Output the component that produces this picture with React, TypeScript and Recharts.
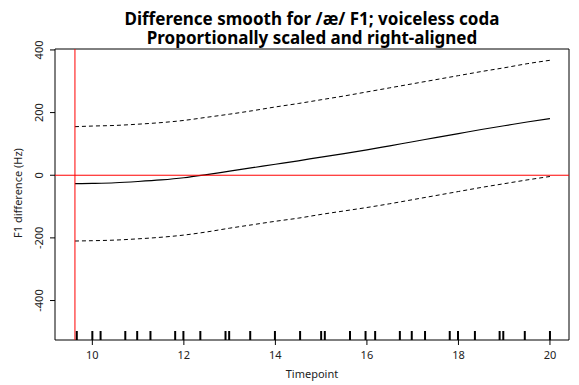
import React from "react";
import {
  ComposedChart,
  Line,
  Scatter,
  XAxis,
  YAxis,
  ReferenceLine,
  ReferenceArea,
  Customized,
} from "recharts";

// ---- data ----
const timepoints = [9.62, 10, 10.5, 11, 11.5, 12, 12.5, 13, 13.5, 14, 14.5, 15, 15.5, 16, 16.5, 17, 17.5, 18, 18.5, 19, 19.5, 20];
const meanDiff = [-27, -26, -24, -20, -15, -8, 2, 13, 24, 35, 46, 58, 69, 81, 94, 107, 120, 133, 146, 158, 170, 181];
const upperCI = [155, 157, 159, 163, 168, 175, 185, 195, 206, 218, 229, 241, 253, 266, 279, 292, 305, 318, 331, 343, 356, 367];
const lowerCI = [-210, -209, -207, -203, -198, -191, -181, -169, -158, -147, -137, -125, -114, -103, -91, -78, -65, -52, -39, -27, -15, -4];
const rugTimes = [9.66, 10, 10.18, 10.72, 10.98, 11.27, 11.81, 11.99, 12.36, 12.91, 12.99, 13.45, 13.99, 14.54, 15.0, 15.08, 15.63, 15.97, 16.18, 16.72, 16.98, 17.27, 17.81, 17.99, 18.36, 18.9, 18.98, 19.45, 20.0];
const xTicks = [10, 12, 14, 16, 18, 20];
const yTicks = [-400, -200, 0, 200, 400];
const startLine = 9.62;
const X_DOMAIN: [number, number] = [9.184, 20.416];
const Y_DOMAIN: [number, number] = [-526, 403];
const titleLines = ["Difference smooth for /æ/ F1; voiceless coda", "Proportionally scaled and right-aligned"];
const xLabel = "Timepoint";
const yLabel = "F1 difference (Hz)";

const curveData = timepoints.map((t, i) => ({ t, mean: meanDiff[i], upper: upperCI[i], lower: lowerCI[i] }));
const rugData = rugTimes.map((t) => ({ t, y: Y_DOMAIN[0] }));

const FONT = "'Noto Sans', 'Open Sans', sans-serif";

const XTick = (props: any) => {
  const { x, y, payload } = props;
  return (
    <text x={x} y={y + 12} textAnchor="middle" fontSize={11} fill="#222" fontFamily={FONT}>
      {payload.value}
    </text>
  );
};

const YTick = (props: any) => {
  const { x, y, payload } = props;
  return (
    <text x={x} y={y} transform={`rotate(-90, ${x}, ${y})`} textAnchor="middle" fontSize={11} fill="#222" fontFamily={FONT}>
      {payload.value}
    </text>
  );
};

const RugTick = (props: any) => {
  const { cx, cy } = props;
  return <line x1={cx} x2={cx} y1={cy} y2={cy - 9} stroke="#000" strokeWidth={2} />;
};

const Titles = () => (
  <g fontFamily={FONT}>
    <text x={312} y={25} textAnchor="middle" fontSize={17} fontWeight="bold" fill="#000">
      {titleLines[0]}
    </text>
    <text x={312} y={44} textAnchor="middle" fontSize={17} fontWeight="bold" fill="#000">
      {titleLines[1]}
    </text>
    <text x={312} y={378} textAnchor="middle" fontSize={11} fill="#222">
      {xLabel}
    </text>
    <text x={22} y={193} transform="rotate(-90, 22, 193)" textAnchor="middle" fontSize={11} fill="#222">
      {yLabel}
    </text>
  </g>
);

export default function App() {
  return (
    <div style={{ position: "absolute", left: 0, top: 0, background: "#fff" }}>
      <ComposedChart
        width={579}
        height={385}
        data={curveData}
        margin={{ top: 49, right: 10, bottom: 0, left: 0 }}
        style={{ fontFamily: FONT }}
      >
        <XAxis
          dataKey="t"
          type="number"
          domain={X_DOMAIN}
          ticks={xTicks}
          allowDataOverflow
          height={45}
          tickSize={5}
          tickLine={{ stroke: "#000" }}
          axisLine={false}
          tick={<XTick />}
        />
        <YAxis
          type="number"
          domain={Y_DOMAIN}
          ticks={yTicks}
          allowDataOverflow
          width={55}
          tickSize={5}
          tickMargin={7}
          tickLine={{ stroke: "#000" }}
          axisLine={false}
          tick={<YTick />}
        />
        <ReferenceArea
          x1={X_DOMAIN[0]}
          x2={X_DOMAIN[1]}
          y1={Y_DOMAIN[0]}
          y2={Y_DOMAIN[1]}
          fill="none"
          stroke="#000"
          strokeWidth={1}
          fillOpacity={0}
        />
        <Line dataKey="upper" type="monotone" stroke="#000" strokeWidth={1} strokeDasharray="4 3" dot={false} activeDot={false} isAnimationActive={false} />
        <Line dataKey="lower" type="monotone" stroke="#000" strokeWidth={1} strokeDasharray="4 3" dot={false} activeDot={false} isAnimationActive={false} />
        <Line dataKey="mean" type="monotone" stroke="#000" strokeWidth={1.2} dot={false} activeDot={false} isAnimationActive={false} />
        <ReferenceLine y={0} stroke="#ff0000" strokeWidth={1} />
        <ReferenceLine x={startLine} stroke="#ff0000" strokeWidth={1} />
        <Scatter data={rugData} dataKey="y" shape={<RugTick />} isAnimationActive={false} />
        <Customized component={<Titles />} />
      </ComposedChart>
    </div>
  );
}
